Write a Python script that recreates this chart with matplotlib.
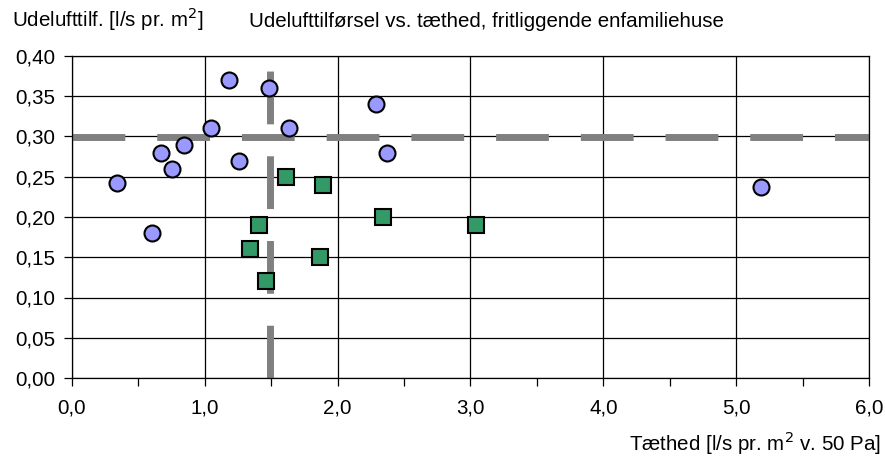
import matplotlib
matplotlib.use("Agg")
from matplotlib import pyplot as plt
from matplotlib.ticker import MultipleLocator, FuncFormatter

plt.rcParams['font.family'] = ['Liberation Sans', 'DejaVu Sans']

# udelufttilførsel mod tæthed, to grupper af huse
circle_x = [0.34, 0.60, 0.67, 0.75, 0.84, 1.05, 1.18, 1.26, 1.48, 1.63, 2.29, 2.37, 5.19]
circle_y = [0.242, 0.18, 0.28, 0.26, 0.29, 0.31, 0.37, 0.27, 0.36, 0.31, 0.34, 0.28, 0.237]

square_x = [1.61, 1.89, 1.41, 1.34, 1.46, 1.87, 2.34, 3.04]
square_y = [0.25, 0.24, 0.19, 0.16, 0.12, 0.15, 0.20, 0.19]

# grænseværdier (stiplede linjer)
limit_y = 0.30
limit_x = 1.49

xlim = (0.0, 6.0)
ylim = (0.0, 0.40)

FS = 14.8

fig = plt.figure(figsize=(8.85, 4.57), dpi=100)
ax = fig.add_axes([72 / 885, 1 - 378 / 457, 797 / 885, 322 / 457])

ax.set_xlim(*xlim)
ax.set_ylim(*ylim)

ax.xaxis.set_major_locator(MultipleLocator(1.0))
ax.xaxis.set_minor_locator(MultipleLocator(0.5))
ax.yaxis.set_major_locator(MultipleLocator(0.05))
ax.xaxis.set_major_formatter(FuncFormatter(lambda v, p: f"{v:.1f}".replace('.', ',')))
ax.yaxis.set_major_formatter(FuncFormatter(lambda v, p: f"{v:.2f}".replace('.', ',')))

ax.grid(True, which='major', color='black', linewidth=0.9)
ax.set_axisbelow(True)
for s in ax.spines.values():
    s.set_color('black')
    s.set_linewidth(0.9)

ax.tick_params(axis='both', which='major', direction='out', length=6, width=0.9,
               labelsize=FS, colors='black')
ax.tick_params(axis='y', which='major', pad=6)
ax.tick_params(axis='x', which='major', pad=9)
ax.tick_params(axis='x', which='minor', direction='out', length=6, width=0.9)

dash = (7.6, 4.6)
ax.plot(list(xlim), [limit_y, limit_y], color='#808080', linewidth=5,
        dashes=dash, solid_capstyle='butt', dash_capstyle='butt', zorder=2)
ax.plot([limit_x, limit_x], list(ylim), color='#808080', linewidth=5,
        dashes=dash, solid_capstyle='butt', dash_capstyle='butt', zorder=2)

ax.plot(circle_x, circle_y, linestyle='none', marker='o', markersize=11.5,
        markerfacecolor='#9999FF', markeredgecolor='black', markeredgewidth=1.5,
        zorder=3, clip_on=False)
ax.plot(square_x, square_y, linestyle='none', marker='s', markersize=11,
        markerfacecolor='#339966', markeredgecolor='black', markeredgewidth=1.5,
        zorder=3, clip_on=False)

fig.text(12 / 885, 1 - 27 / 457, 'Udelufttilf. [l/s pr. m$^2$]', fontsize=FS,
         ha='left', va='baseline')
fig.text(249 / 885, 1 - 27 / 457,
         'Udelufttilførsel vs. tæthed, fritliggende enfamiliehuse',
         fontsize=FS, ha='left', va='baseline')
fig.text(881 / 885, 1 - 451 / 457, 'Tæthed [l/s pr. m$^2$ v. 50 Pa]',
         fontsize=FS, ha='right', va='baseline')

fig.savefig('out.png', dpi=100)
